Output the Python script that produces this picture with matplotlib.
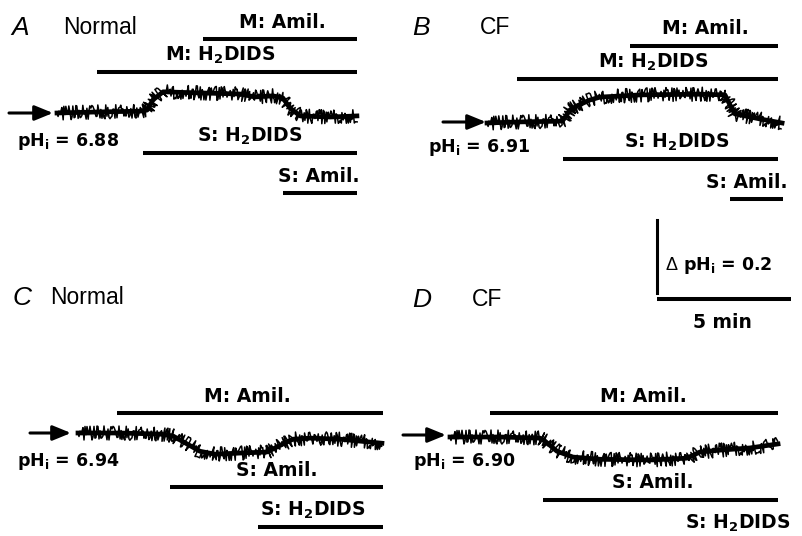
import matplotlib.pyplot as plt
from matplotlib import transforms

plt.rcParams['font.family'] = ['Liberation Sans', 'DejaVu Sans']
plt.rcParams['mathtext.fontset'] = 'custom'
plt.rcParams['mathtext.rm'] = 'DejaVu Sans:bold'
plt.rcParams['mathtext.it'] = 'DejaVu Sans:bold'
plt.rcParams['mathtext.bf'] = 'DejaVu Sans:bold'

BOLD = dict(family='DejaVu Sans', fontweight='bold', fontsize=13.5)
BOLD_PH = dict(family='DejaVu Sans', fontweight='bold', fontsize=12.5)

PX_MIN = 26.8    # pixels per minute (5 min scale bar)
PX_PH = 365.0    # pixels per pH unit (0.2 pH scale bar)

# ---- panel A : Normal ----
a_t = [0, 1.60, 3.09, 3.36, 3.58, 3.96, 5.34, 6.83, 7.39, 8.06, 8.43, 8.69, 9.07, 10.19, 11.19]
a_ph = [6.880, 6.883, 6.885, 6.888, 6.916, 6.938, 6.935, 6.932, 6.924, 6.927, 6.921, 6.894, 6.872, 6.869, 6.872]
a_bar_names = ['M: Amil.', 'M: H$_\\mathrm{2}$DIDS', 'S: H$_\\mathrm{2}$DIDS', 'S: Amil.']
a_bar_start = [5.45, 1.49, 3.21, 8.43]
a_bar_end = [11.19, 11.19, 11.19, 11.19]

# ---- panel B : CF ----
b_t = [0, 1.23, 2.72, 2.84, 3.10, 3.36, 3.84, 4.22, 5.71, 7.95, 8.88, 9.07, 9.25, 10.19, 11.01]
b_ph = [6.910, 6.913, 6.915, 6.918, 6.946, 6.957, 6.973, 6.981, 6.987, 6.989, 6.987, 6.959, 6.935, 6.921, 6.910]
b_bar_names = ['M: Amil.', 'M: H$_\\mathrm{2}$DIDS', 'S: H$_\\mathrm{2}$DIDS', 'S: Amil.']
b_bar_start = [5.34, 1.12, 2.84, 9.07]
b_bar_end = [10.86, 10.86, 10.86, 11.04]

# ---- panel C : Normal ----
c_t = [0, 1.57, 3.06, 3.54, 4.07, 4.55, 5.11, 6.04, 7.05, 7.65, 8.02, 8.66, 9.78, 11.34]
c_ph = [6.943, 6.943, 6.940, 6.935, 6.913, 6.893, 6.885, 6.888, 6.891, 6.913, 6.926, 6.929, 6.926, 6.915]
c_bar_names = ['M: Amil.', 'S: Amil.', 'S: H$_\\mathrm{2}$DIDS']
c_bar_start = [1.46, 3.43, 6.72]
c_bar_end = [11.38, 11.38, 11.38]

# ---- panel D : CF ----
d_t = [0, 1.87, 3.36, 3.54, 3.99, 4.59, 5.60, 7.46, 8.84, 9.33, 10.07, 11.19, 12.24]
d_ph = [6.903, 6.903, 6.900, 6.892, 6.864, 6.848, 6.842, 6.840, 6.845, 6.862, 6.867, 6.873, 6.884]
d_bar_names = ['M: Amil.', 'S: Amil.', 'S: H$_\\mathrm{2}$DIDS']
d_bar_start = [1.49, 3.47, None]
d_bar_end = [12.24, 12.24, None]

# scale bars
SB_MIN = 5
SB_PH = 0.2

# layout: letter, title, origin px (x0, y0), label rows (px), label x (px), alignment
panels = [
    dict(letter='A', title='Normal', lpos=(11, 28), tpos=(63, 28), x0=57, y0=113,
         t=a_t, ph=a_ph, names=a_bar_names, start=a_bar_start, end=a_bar_end,
         rows=[39, 72, 153, 193], lx=[282, 220, 250, 360], ha=['center', 'center', 'center', 'right'],
         arrow=(9, 53, 113), phpos=(17, 142)),
    dict(letter='B', title='CF', lpos=(412, 28), tpos=(480, 28), x0=487, y0=123,
         t=b_t, ph=b_ph, names=b_bar_names, start=b_bar_start, end=b_bar_end,
         rows=[46, 79, 159, 199], lx=[705, 653, 677, 787], ha=['center', 'center', 'center', 'right'],
         arrow=(443, 486, 122), phpos=(428, 148)),
    dict(letter='C', title='Normal', lpos=(13, 298), tpos=(50, 298), x0=78, y0=433,
         t=c_t, ph=c_ph, names=c_bar_names, start=c_bar_start, end=c_bar_end,
         rows=[413, 487, 527], lx=[247, 277, 313], ha=['center', 'center', 'center'],
         arrow=(30, 71, 433), phpos=(17, 462)),
    dict(letter='D', title='CF', lpos=(412, 300), tpos=(472, 300), x0=450, y0=437,
         t=d_t, ph=d_ph, names=d_bar_names, start=d_bar_start, end=d_bar_end,
         rows=[413, 500, 540], lx=[643, 653, 790], ha=['center', 'center', 'right'],
         arrow=(403, 446, 435), phpos=(413, 462)),
]

fig = plt.figure(figsize=(8.02, 5.36), dpi=100)
over = fig.add_axes([0, 0, 1, 1])
over.set_xlim(0, 802)
over.set_ylim(536, 0)
over.axis('off')

axes = []
for p in panels:
    t_end = p['t'][-1]
    w = t_end * PX_MIN
    h = 100
    ph0 = p['ph'][0]
    ax = fig.add_axes([p['x0'] / 802, (536 - p['y0'] - h / 2) / 536, w / 802, h / 536])
    ax.set_xlim(0, t_end)
    ax.set_ylim(ph0 - h / 2 / PX_PH, ph0 + h / 2 / PX_PH)
    ax.axis('off')
    axes.append(ax)

    # trace: solid core plus a sketchy overlay for the recording noise look
    ax.plot(p['t'], p['ph'], color='k', lw=3.4, clip_on=False, solid_joinstyle='round')
    noisy, = ax.plot(p['t'], p['ph'], color='k', lw=1.1, clip_on=False)
    noisy.set_sketch_params(scale=7, length=0.8, randomness=3)

    # drug bars (time on x, row position in figure pixels)
    blend = transforms.blended_transform_factory(ax.transData, over.transData)
    for name, s, e, row, lx, ha in zip(p['names'], p['start'], p['end'], p['rows'], p['lx'], p['ha']):
        if s is not None:
            ax.plot([s, e], [row, row], transform=blend, color='k', lw=2.9,
                    solid_capstyle='butt', clip_on=False)
        over.text(lx, row - 17, name, ha=ha, va='center', **BOLD)

    # panel letter and title
    over.text(p['lpos'][0], p['lpos'][1], p['letter'], fontsize=19, style='italic',
              ha='left', va='center')
    over.text(p['tpos'][0], p['tpos'][1], p['title'], fontsize=16.5, ha='left', va='center')

    # arrow + starting pHi
    x1, x2, ya = p['arrow']
    over.annotate('', xy=(x2, ya), xytext=(x1, ya),
                  arrowprops=dict(arrowstyle='-|>,head_length=1.1,head_width=0.45',
                                  color='k', lw=2.2, shrinkA=0, shrinkB=0))
    over.text(p['phpos'][0], p['phpos'][1], 'pH$_\\mathrm{i}$ = %.2f' % p['ph'][0],
              ha='left', va='center', **BOLD_PH)

# scale bars drawn in panel B coordinates
axb = axes[1]
sb_t0 = 6.34
sb_top = 6.644
sb_h = 6.428
axb.plot([sb_t0, sb_t0], [sb_top, sb_top - SB_PH], color='k', lw=2.2, clip_on=False)
axb.plot([sb_t0, sb_t0 + SB_MIN], [sb_h, sb_h], color='k', lw=2.9, clip_on=False,
         solid_capstyle='butt')
over.text(665, 265, '\u0394', fontsize=13, ha='left', va='center')
over.text(683, 265, 'pH$_\\mathrm{i}$ = %.1f' % SB_PH, ha='left', va='center', **BOLD_PH)
over.text(722, 323, '%d min' % SB_MIN, ha='center', va='center', **BOLD)

fig.savefig('out.png', dpi=100)
